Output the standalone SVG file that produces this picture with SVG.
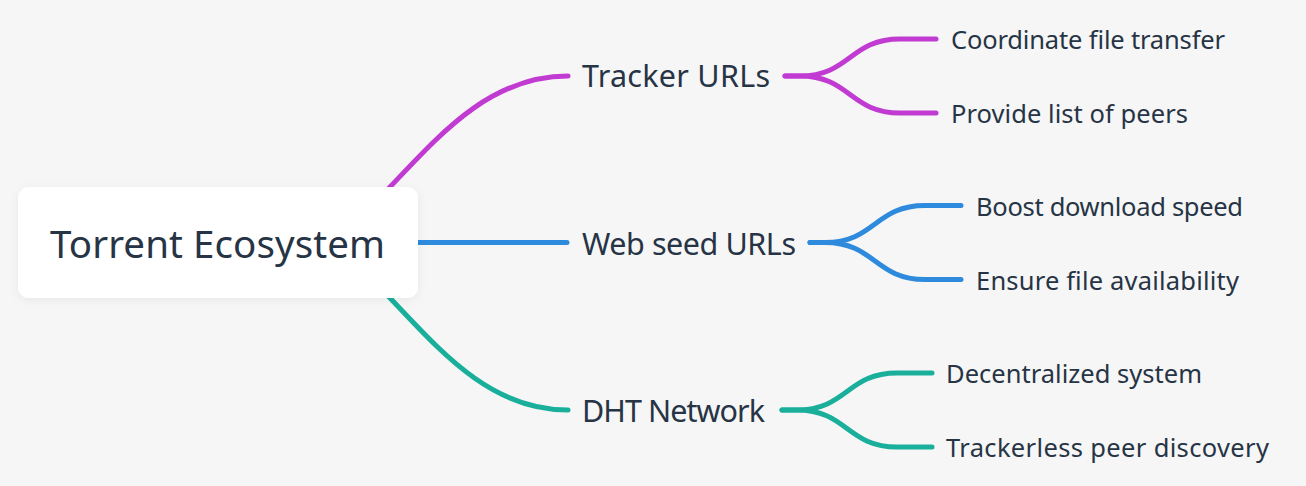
<svg xmlns="http://www.w3.org/2000/svg" width="1306" height="486" viewBox="0 0 1306 486">
<defs>
<filter id="sh" x="-10%" y="-20%" width="120%" height="140%">
<feDropShadow dx="0" dy="2" stdDeviation="5" flood-color="#000" flood-opacity="0.06"/>
</filter>
</defs>
<style>
text{font-family:"Noto Sans","DejaVu Sans",sans-serif;fill:#263445}
.root{font-size:38.5px}
.mid{font-size:30.5px}
.leaf{font-size:25.5px}
.c{fill:none;stroke-width:5;stroke-linecap:round;stroke-linejoin:round}
.m{stroke:#C13BD3}
.b{stroke:#2E8ADC}
.t{stroke:#19AF9B}
</style>
<rect width="1306" height="486" fill="#F6F6F6"/>
<g id="connectors">
<path class="c m" d="M370 208 L390 187 C440 134.5 490 76 568 76"/>
<path class="c b" d="M400 242.5 H567"/>
<path class="c t" d="M370 277 L390 298 C440 350.5 490 410 568 410"/>
<path class="c m" d="M785 76 H800 C850 76 850 39 900 39 H936"/>
<path class="c m" d="M785 76 H800 C850 76 850 113 900 113 H936"/>
<path class="c b" d="M810 242.5 H825 C875 242.5 875 205.5 925 205.5 H961"/>
<path class="c b" d="M810 242.5 H825 C875 242.5 875 279.5 925 279.5 H961"/>
<path class="c t" d="M782 410 H797 C847 410 847 373 897 373 H932"/>
<path class="c t" d="M782 410 H797 C847 410 847 447 897 447 H932"/>
</g>
<g id="root">
<rect x="18" y="187" width="400" height="111" rx="11" fill="#FFFFFF" filter="url(#sh)"/>
<text class="root" x="50" y="258" textLength="335">Torrent Ecosystem</text>
</g>
<g id="tracker"><text class="mid" x="582" y="87" textLength="188">Tracker URLs</text></g>
<g id="webseed"><text class="mid" x="582" y="255" textLength="214">Web seed URLs</text></g>
<g id="dht"><text class="mid" x="582" y="421.5" textLength="183">DHT Network</text></g>
<g id="coordinate"><text class="leaf" x="951" y="48.5" textLength="274">Coordinate file transfer</text></g>
<g id="provide"><text class="leaf" x="951" y="122.5" textLength="237">Provide list of peers</text></g>
<g id="boost"><text class="leaf" x="976" y="216" textLength="267">Boost download speed</text></g>
<g id="ensure"><text class="leaf" x="976" y="290" textLength="263">Ensure file availability</text></g>
<g id="decentralized"><text class="leaf" x="946" y="383" textLength="256">Decentralized system</text></g>
<g id="trackerless"><text class="leaf" x="946" y="457" textLength="323">Trackerless peer discovery</text></g>
</svg>
